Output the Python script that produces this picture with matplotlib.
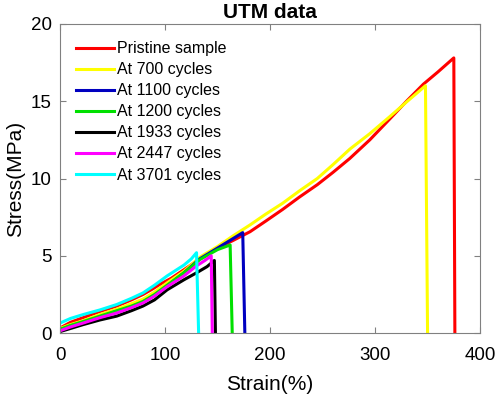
import numpy as np
import matplotlib.pyplot as plt

plt.rcParams['font.family'] = ['Liberation Sans', 'DejaVu Sans']

# 各曲线数据 (应变 %, 应力 MPa)
labels = ['Pristine sample', 'At 700 cycles', 'At 1100 cycles', 'At 1200 cycles',
          'At 1933 cycles', 'At 2447 cycles', 'At 3701 cycles']
colors = ['#ff0000', '#ffff00', '#0000c0', '#00e000', '#000000', '#ff00ff', '#00ffff']

strain_pristine = [0, 10, 22, 38, 54, 68, 79, 88, 95, 106, 118, 133, 150, 165, 181, 196, 212, 228,
                   245, 260, 276, 295, 314, 330, 346, 360, 375, 376]
stress_pristine = [0.33, 0.7, 1.0, 1.4, 1.75, 2.15, 2.5, 2.85, 3.15, 3.55, 4.1, 4.8, 5.5, 6.0, 6.56,
                   7.25, 8.0, 8.8, 9.6, 10.4, 11.3, 12.5, 13.85, 15.0, 16.1, 16.9, 17.8, 0]

strain_700 = [0, 10, 22, 38, 54, 68, 79, 90, 102, 118, 133, 150, 165, 181, 196, 212, 228, 245,
              260, 276, 295, 314, 330, 348, 350]
stress_700 = [0.3, 0.55, 0.8, 1.2, 1.55, 1.9, 2.2, 2.65, 3.25, 4.0, 4.9, 5.6, 6.3, 7.0, 7.7, 8.4,
              9.2, 10.0, 10.9, 11.9, 12.9, 14.0, 14.95, 16.0, 0]

strain_1100 = [0, 10, 22, 38, 54, 68, 79, 90, 102, 118, 133, 150, 162, 174, 176]
stress_1100 = [0.2, 0.45, 0.7, 1.05, 1.4, 1.7, 2.0, 2.45, 3.05, 3.9, 4.8, 5.5, 6.0, 6.5, 0]

strain_1200 = [0, 10, 22, 38, 54, 68, 79, 90, 102, 118, 133, 150, 162, 164]
stress_1200 = [0.25, 0.5, 0.75, 1.1, 1.45, 1.75, 2.05, 2.5, 3.1, 3.9, 4.75, 5.4, 5.7, 0]

strain_1933 = [0, 10, 22, 38, 54, 68, 79, 90, 102, 118, 130, 140, 147, 148]
stress_1933 = [0.1, 0.3, 0.55, 0.85, 1.1, 1.45, 1.75, 2.15, 2.8, 3.45, 3.9, 4.3, 4.7, 0]

strain_2447 = [0, 10, 22, 38, 54, 68, 79, 90, 102, 118, 130, 138, 144, 145]
stress_2447 = [0.15, 0.4, 0.65, 1.0, 1.3, 1.65, 1.95, 2.4, 3.0, 3.7, 4.35, 4.7, 5.0, 0]

strain_3701 = [0, 10, 22, 38, 54, 68, 79, 90, 102, 110, 118, 125, 130, 132]
stress_3701 = [0.65, 0.95, 1.2, 1.5, 1.85, 2.25, 2.6, 3.1, 3.7, 4.05, 4.4, 4.8, 5.2, 0]

strains = [strain_pristine, strain_700, strain_1100, strain_1200, strain_1933, strain_2447, strain_3701]
stresses = [stress_pristine, stress_700, stress_1100, stress_1200, stress_1933, stress_2447, stress_3701]

fig = plt.figure(figsize=(4.98, 3.98), dpi=100)
ax = fig.add_axes([0.1205, 0.163, 0.8435, 0.777])

for x, y, c, lab in zip(strains, stresses, colors, labels):
    ax.plot(x, y, color=c, lw=2.2, label=lab, solid_joinstyle='round')

ax.set_xlim(0, 400)
ax.set_ylim(0, 20)
ax.set_xticks([0, 100, 200, 300, 400])
ax.set_yticks([0, 5, 10, 15, 20])
ax.tick_params(direction='in', top=True, right=True, labelsize=13.5, length=4, color='#808080')
ax.tick_params(axis='x', pad=10)
ax.tick_params(axis='y', pad=6)
for side in ['left', 'right', 'bottom', 'top']:
    ax.spines[side].set_color('#808080')
    ax.spines[side].set_linewidth(0.8)

ax.set_xlabel('Strain(%)', fontsize=15, labelpad=8)
ax.set_ylabel('Stress(MPa)', fontsize=15, labelpad=4)
ax.set_title('UTM data', fontsize=15, fontweight='bold', pad=4)

ax.legend(loc='upper left', frameon=False, fontsize=11.5, handlelength=2.4, handletextpad=0.2,
          labelspacing=0.38, borderaxespad=0.0, bbox_to_anchor=(0.022, 0.965))

fig.savefig('out.png', dpi=100)
